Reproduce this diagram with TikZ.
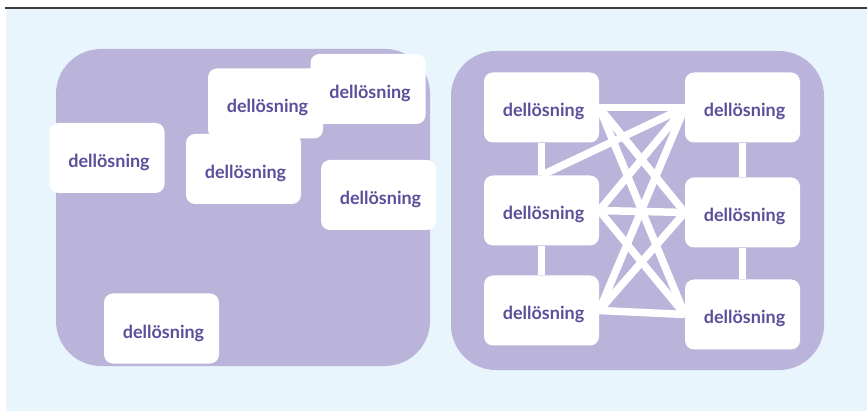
\documentclass[tikz,border=0pt]{standalone}
\usepackage{fontspec}
\setmainfont{Lato}
\definecolor{bgblue}{HTML}{E8F5FD}
\definecolor{panel}{HTML}{BAB4DB}
\definecolor{ink}{HTML}{5A4F9A}
\definecolor{rule}{HTML}{3C3C3C}
\pgfdeclarelayer{panels}
\pgfdeclarelayer{links}
\pgfsetlayers{panels,links,main}
\tikzset{
  part/.style={fill=white, rounded corners=9pt, minimum width=115pt, minimum height=70pt,
    inner sep=0pt, text height=22pt, text depth=3pt,
    execute at begin node=\hspace*{4pt},
    font=\fontsize{18}{21}\selectfont\bfseries, text=ink},
  panelbox/.style={fill=panel, rounded corners=45pt},
  link/.style={draw=white, line width=7.5pt}
}
\begin{document}
\begin{tikzpicture}[x=1pt, y=-1pt]
\useasboundingbox (0,0) rectangle (867,411);
\begin{pgfonlayer}{panels}
  % backdrop and top rule
  \fill[bgblue] (6,9.5) rectangle (867,411);
  \draw[rule, line width=2pt] (5,8.5) -- (867,8.5);
  % the two panels
  \fill[panelbox] (56,49) rectangle (430,366);
  \fill[panelbox] (451,51) rectangle (824,370);
\end{pgfonlayer}

% left panel: scattered parts
\node[part] (a) at (107,158) {dellösning};
\node[part] (b) at (265.5,103.5) {dellösning};
\node[part] (c) at (368,89) {dellösning};
\node[part] (d) at (243.5,169) {dellösning};
\node[part] (e) at (378.5,195) {dellösning};
\node[part] (f) at (161.5,328.5) {dellösning};

% right panel: connected parts
\node[part] (l1) at (541.5,107.5) {dellösning};
\node[part] (l2) at (541.5,210.5) {dellösning};
\node[part] (l3) at (541.5,310.5) {dellösning};
\node[part] (r1) at (742.5,107.5) {dellösning};
\node[part] (r2) at (742.5,212.5) {dellösning};
\node[part] (r3) at (742.5,314.5) {dellösning};

\begin{pgfonlayer}{links}
  % vertical links within each column
  \draw[link] (l1.south) -- (l2.north);
  \draw[link] (l2.south) -- (l3.north);
  \draw[link] (r1.south) -- (r2.north);
  \draw[link] (r2.south) -- (r3.north);
  % every left part to every right part
  \foreach \l in {l1,l2,l3}
    \foreach \r in {r1,r2,r3}
      \draw[link] (\l.east) -- (\r.west);
  \draw[link] (l2.north) -- (r1.west);
\end{pgfonlayer}
\end{tikzpicture}
\end{document}
